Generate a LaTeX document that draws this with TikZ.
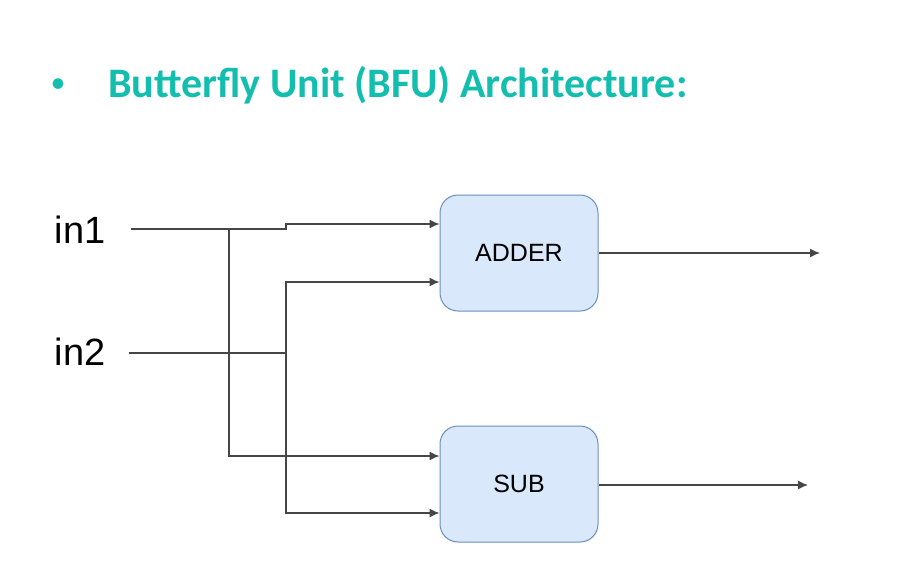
\documentclass[tikz,border=0pt]{standalone}
\usepackage{fontspec}
\setmainfont{Liberation Sans}
\newfontfamily\titlefont{Carlito}
\usetikzlibrary{calc, arrows.meta}
\definecolor{titleTeal}{RGB}{20, 190, 175}
\definecolor{boxFill}{RGB}{218, 232, 252}
\definecolor{boxLine}{RGB}{108, 142, 191}
\definecolor{wireGrey}{RGB}{70, 70, 70}

\begin{document}
\begin{tikzpicture} [
        x=1pt, y=-1pt,
        block/.style={draw=boxLine, fill=boxFill, line width=1pt, rounded corners=18pt,
            minimum width=158pt, minimum height=116pt, font=\fontsize{25}{30}\selectfont},
        port/.style={font=\fontsize{38}{44}\selectfont, inner sep=0pt},
        wire/.style={draw=wireGrey, line width=1.3pt},
        arrow/.style={wire, -{Latex[length=10pt, width=9pt]}}
    ]
    \useasboundingbox (0,0) rectangle (908,586);

    \node[text=titleTeal, font=\titlefont\fontsize{30}{34}\selectfont] (bullet) at (58,86) {•};
    \node[text=titleTeal, font=\titlefont\bfseries\fontsize{42}{48}\selectfont, anchor=base west, inner sep=0pt]
        (title) at (108,97) {Butterfly Unit (BFU) Architecture:};

    \node[port] (in1) at (80,230) {in1};
    \node[port] (in2) at (80,352) {in2};

    \node[block] (adder) at (519,253) {ADDER};
    \node[block] (sub) at (519,484) {SUB};

    % junctions and free ends
    \coordinate (in1 end) at (131,229);
    \coordinate (in2 end) at (129,353);
    \coordinate (split1) at (229,229);
    \coordinate (split2) at (286,353);
    \coordinate (out1) at (820,253);
    \coordinate (out2) at (808,485);

    \draw[wire] (in1 end) -- (split1);
    \draw[wire] (in2 end) -- (split2);

    \draw[arrow] (split1) -- (286,229) -- (286,224) -- (adder.west |- 0,224);
    \draw[arrow] (split1) |- (sub.west |- 0,456);
    \draw[arrow] (split2) |- (adder.west |- 0,282);
    \draw[arrow] (split2) |- (sub.west |- 0,513);

    \draw[arrow] (adder.east) -- (out1);
    \draw[arrow] (sub.east |- out2) -- (out2);

    \end{tikzpicture}
\end{document}
